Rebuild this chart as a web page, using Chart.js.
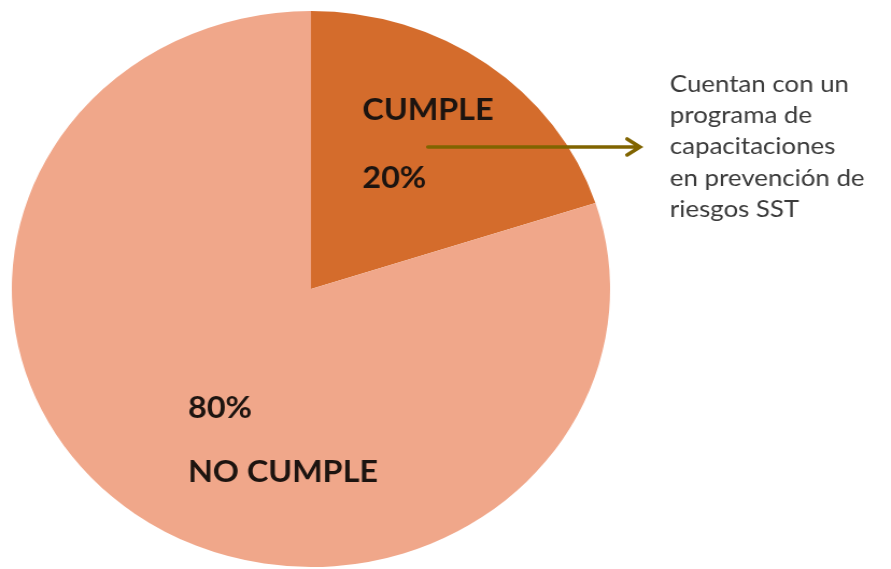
<!DOCTYPE html>
<html>
<head>
<meta charset="utf-8">
<script src="https://cdn.jsdelivr.net/npm/chart.js@4.4.1/dist/chart.umd.min.js"></script>
<style>
  html, body { margin: 0; padding: 0; background: #fff; overflow: hidden; }
  /* the source pie is a little wider than tall, so the canvas is stretched sideways */
  #wrap { position: absolute; left: 0; top: 0; width: 828px; height: 569px;
          transform: scaleX(1.076); transform-origin: 0 0; }
</style>
</head>
<body>
<div id="wrap"><canvas id="pieChart"></canvas></div>
<script>
const categories = ["CUMPLE", "NO CUMPLE"];
const values = [20, 80];
const sliceColors = ["#D46C2C", "#F0A78A"];
const noteLines = ["Cuentan con un", "programa de", "capacitaciones", "en prevención de", "riesgos SST"];

// labels inside the slices + arrow note, placed relative to the arc (in radius units)
const sliceLabels = {
    id: "sliceLabels",
    afterDatasetsDraw(chart) {
        const ctx = chart.ctx;
        const arcs = chart.getDatasetMeta(0).data;
        const a = arcs[0];
        const r = a.outerRadius;
        const total = values.reduce((s, v) => s + v, 0);
        const pct = values.map(v => Math.round(v / total * 100) + "%");

        ctx.save();
        ctx.fillStyle = "#1c1410";
        ctx.font = "bold 30px Lato";
        ctx.textAlign = "left";
        ctx.textBaseline = "alphabetic";
        // CUMPLE block
        ctx.fillText(categories[0], a.x + 0.172 * r, a.y - 0.608 * r);
        ctx.fillText(pct[0], a.x + 0.172 * r, a.y - 0.363 * r);
        // NO CUMPLE block
        ctx.fillText(pct[1], a.x - 0.411 * r, a.y + 0.464 * r);
        ctx.fillText(categories[1], a.x - 0.411 * r, a.y + 0.694 * r);

        // arrow
        const ay = a.y - 0.511 * r;
        const x0 = a.x + 0.391 * r, x1 = a.x + 1.10 * r;
        ctx.strokeStyle = "#806400";
        ctx.lineWidth = 3.5;
        ctx.lineCap = "round";
        ctx.beginPath();
        ctx.moveTo(x0, ay);
        ctx.lineTo(x1, ay);
        ctx.moveTo(x1 - 12, ay - 8);
        ctx.lineTo(x1, ay);
        ctx.lineTo(x1 - 12, ay + 8);
        ctx.stroke();

        // note text
        ctx.fillStyle = "#3a3a3a";
        ctx.font = "24px Lato";
        noteLines.forEach((line, i) => {
            ctx.fillText(line, a.x + 1.20 * r, a.y - (0.709 - i * 0.1125) * r);
        });
        ctx.restore();
    }
};

new Chart(document.getElementById("pieChart"), {
    type: "pie",
    data: {
        labels: categories,
        datasets: [{
            data: values,
            backgroundColor: sliceColors,
            borderWidth: 0
        }]
    },
    options: {
        responsive: true,
        maintainAspectRatio: false,
        animation: false,
        layout: { padding: { left: 11, right: 261, top: 11, bottom: 2 } },
        plugins: {
            legend: { display: false },
            tooltip: { enabled: false }
        }
    },
    plugins: [sliceLabels]
});
</script>
</body>
</html>
